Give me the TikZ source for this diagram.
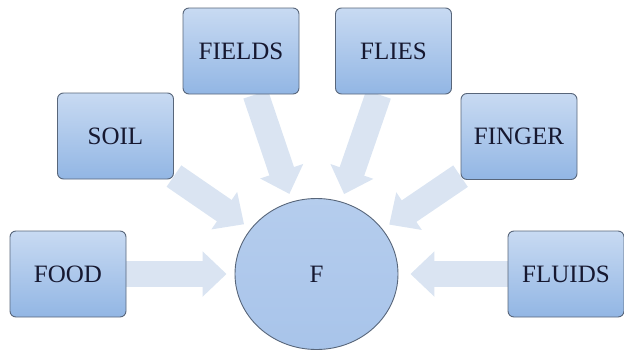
\documentclass[tikz,border=0pt]{standalone}
\usepackage{fontspec}
\setmainfont{Liberation Serif}
\usetikzlibrary{arrows.meta,backgrounds,shapes.geometric}
\definecolor{boxtop}{RGB}{200,218,242}
\definecolor{boxbot}{RGB}{146,182,228}
\definecolor{boxline}{RGB}{88,102,122}
\definecolor{arrowfill}{RGB}{218,228,242}
\definecolor{txt}{RGB}{22,24,48}
\definecolor{circfill}{RGB}{168,196,234}
\tikzset{
  fbox/.style={draw=boxline, line width=0.9pt, rounded corners=6pt,
    top color=boxtop, bottom color=boxbot, minimum width=116pt,
    minimum height=86pt, inner sep=0pt, text=txt,
    font=\fontsize{25}{28}\selectfont},
  fcirc/.style={ellipse, draw=boxline, line width=0.9pt,
    top color=circfill!85!white, bottom color=circfill, minimum width=163pt,
    minimum height=151pt, inner sep=0pt, text=txt, font=\fontsize{25}{28}\selectfont},
  bigarrow/.style={draw=arrowfill, line width=26pt,
    -{Triangle[length=24pt,width=44pt]}, shorten >=8pt}
}
\begin{document}
\begin{tikzpicture}[x=1pt,y=-1pt]
\useasboundingbox (0,0) rectangle (624,351);
\node[fbox] (food) at (68,274) {FOOD};
\node[fbox] (soil) at (115.5,136) {SOIL};
\node[fbox] (fields) at (241,51) {FIELDS};
\node[fbox] (flies) at (393.5,51) {FLIES};
\node[fbox] (finger) at (519,136.5) {FINGER};
\node[fbox] (fluids) at (566,274) {FLUIDS};
\node[fcirc] (F) at (316.5,274) {F};
\begin{scope}[on background layer]
\draw[bigarrow] (food) -- (F);
\draw[bigarrow] (soil) -- (F);
\draw[bigarrow] (fields) -- (F);
\draw[bigarrow] (flies) -- (F);
\draw[bigarrow] (finger) -- (F);
\draw[bigarrow, shorten >=12pt] (fluids) -- (F);
\end{scope}
\end{tikzpicture}
\end{document}
